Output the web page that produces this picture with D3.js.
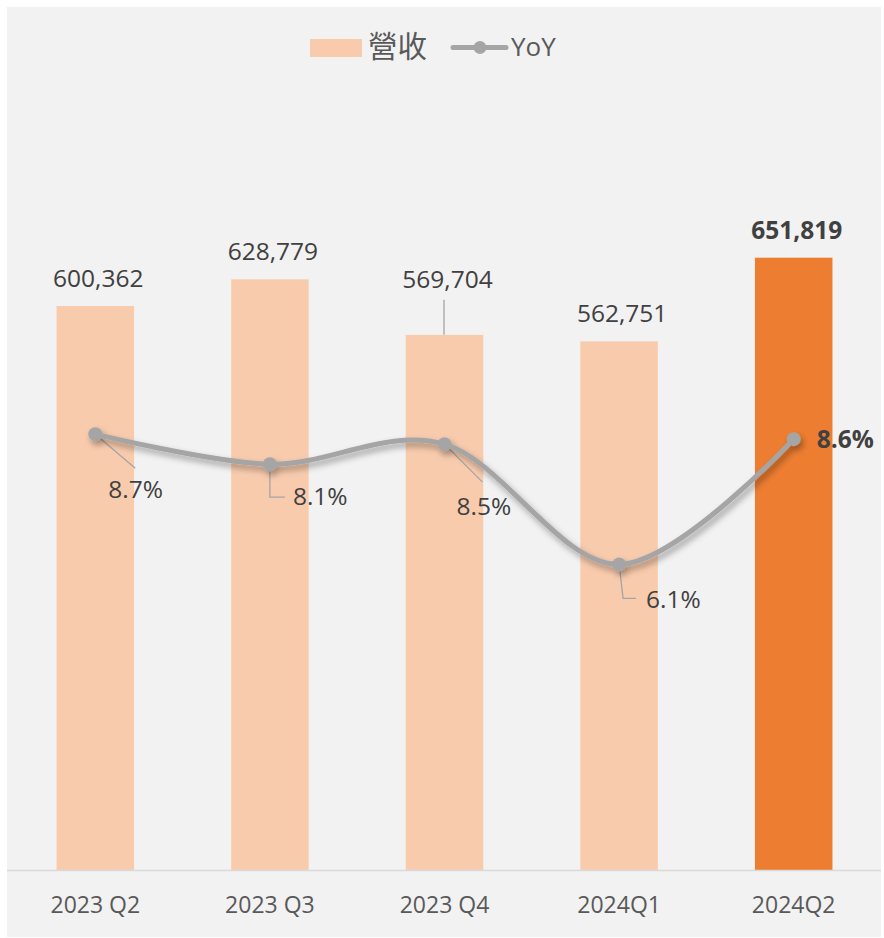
<!DOCTYPE html>
<html lang="zh-Hant">
  <head>
    <meta charset="UTF-8" />
    <title>營收 YoY</title>
    <script src="https://d3js.org/d3.v7.min.js"></script>
    <style>
      * {
        box-sizing: border-box;
        margin: 0;
        padding: 0;
      }
      body {
        background: #ffffff;
      }
      text {
        font-family: "Open Sans", "Noto Sans CJK TC", sans-serif;
      }
    </style>
  </head>
  <body>
    <svg id="chart"></svg>
    <script>
      // data
      const categories = ["2023 Q2", "2023 Q3", "2023 Q4", "2024Q1", "2024Q2"];
      const revenue = [600362, 628779, 569704, 562751, 651819];
      const yoy = [8.7, 8.1, 8.5, 6.1, 8.6];
      const seriesNames = ["營收", "YoY"];

      // layout
      const W = 884, H = 938;
      const plotLeft = 8, plotRight = 881, baseY = 870, topY = 118.5;
      const lightBar = "#f8cbad", darkBar = "#ed7d31", lineCol = "#a5a5a5";

      // label placement for the YoY points (offset from each dot)
      const yoyLabelPos = [
        { dx: 13, dy: 64, leader: [[0, 0], [40, 34]] },
        { dx: 23, dy: 41, leader: [[0, 0], [0, 33], [15, 33]] },
        { dx: 12, dy: 71, leader: [[0, 0], [38, 38]] },
        { dx: 27, dy: 44, leader: [[0, 0], [4, 34], [17, 34]] },
        { dx: 23, dy: 8.5, leader: null }
      ];

      const svg = d3.select("#chart").attr("width", W).attr("height", H);

      // shadow for the line
      const defs = svg.append("defs");
      defs.append("filter")
        .attr("id", "shadow")
        .attr("x", "-20%").attr("y", "-50%")
        .attr("width", "140%").attr("height", "200%")
        .append("feDropShadow")
        .attr("dx", 2.5).attr("dy", 4)
        .attr("stdDeviation", 3)
        .attr("flood-color", "#000")
        .attr("flood-opacity", 0.35);

      svg.append("rect")
        .attr("x", 7).attr("y", 7)
        .attr("width", 874).attr("height", 930)
        .attr("fill", "#f2f2f2");

      const x = d3.scaleBand().domain(categories).range([plotLeft, plotRight]).padding(0);
      const y = d3.scaleLinear().domain([0, 800000]).range([baseY, topY]);
      const y2 = d3.scaleLinear().domain([0, 15]).range([baseY, topY]);
      const barW = x.bandwidth() * 0.444;
      const cx = (c) => x(c) + x.bandwidth() / 2;

      const last = categories.length - 1;

      // bars
      svg.selectAll(".bar")
        .data(categories)
        .enter()
        .append("rect")
        .attr("class", "bar")
        .attr("x", (d) => cx(d) - barW / 2)
        .attr("y", (d, i) => y(revenue[i]))
        .attr("width", barW)
        .attr("height", (d, i) => baseY - y(revenue[i]))
        .attr("fill", (d, i) => (i === last ? darkBar : lightBar));

      // x axis
      const xAxis = svg.append("g")
        .attr("transform", `translate(0,${baseY})`)
        .call(d3.axisBottom(x).tickSize(0).tickPadding(27));
      xAxis.select(".domain")
        .attr("d", `M7,0.5H881`)
        .attr("stroke", "#d9d9d9")
        .attr("stroke-width", 1.5);
      xAxis.selectAll("text")
        .attr("font-size", 23)
        .attr("fill", "#595959");

      // bar value labels (Q4 is lifted with a leader line)
      const fmt = d3.format(",");
      svg.selectAll(".barLabel")
        .data(categories)
        .enter()
        .append("text")
        .attr("class", "barLabel")
        .attr("x", (d) => cx(d) + 3)
        .attr("y", (d, i) => y(revenue[i]) - (i === 2 ? 47 : 19))
        .attr("text-anchor", "middle")
        .attr("font-size", 24.5)
        .attr("font-weight", (d, i) => (i === last ? 700 : 400))
        .attr("fill", "#404040")
        .text((d, i) => fmt(revenue[i]));

      svg.append("line")
        .attr("x1", cx(categories[2]) - 0.5).attr("x2", cx(categories[2]) - 0.5)
        .attr("y1", y(revenue[2]) - 35).attr("y2", y(revenue[2]))
        .attr("stroke", lineCol).attr("stroke-width", 1.3);

      // YoY leader lines
      const pts = categories.map((c, i) => [cx(c), y2(yoy[i])]);
      yoyLabelPos.forEach((p, i) => {
        if (!p.leader) return;
        svg.append("path")
          .attr("d", d3.line()(p.leader.map((q) => [pts[i][0] + q[0], pts[i][1] + q[1]])))
          .attr("fill", "none")
          .attr("stroke", lineCol)
          .attr("stroke-width", 1.3);
      });

      // YoY line + markers
      const gLine = svg.append("g").attr("filter", "url(#shadow)");
      gLine.append("path")
        .datum(pts)
        .attr("d", d3.line().curve(d3.curveCardinal.tension(0)))
        .attr("fill", "none")
        .attr("stroke", lineCol)
        .attr("stroke-width", 5)
        .attr("stroke-linecap", "round");
      gLine.selectAll("circle")
        .data(pts)
        .enter()
        .append("circle")
        .attr("cx", (d) => d[0])
        .attr("cy", (d) => d[1])
        .attr("r", 7)
        .attr("fill", lineCol);

      // YoY labels
      svg.selectAll(".yoyLabel")
        .data(yoy)
        .enter()
        .append("text")
        .attr("class", "yoyLabel")
        .attr("x", (d, i) => pts[i][0] + yoyLabelPos[i].dx)
        .attr("y", (d, i) => pts[i][1] + yoyLabelPos[i].dy)
        .attr("font-size", 24.5)
        .attr("font-weight", (d, i) => (i === last ? 700 : 400))
        .attr("fill", "#404040")
        .text((d) => d.toFixed(1) + "%");

      // legend
      const leg = svg.append("g");
      leg.append("rect")
        .attr("x", 310).attr("y", 39)
        .attr("width", 52).attr("height", 18)
        .attr("fill", lightBar);
      leg.append("text")
        .attr("x", 368).attr("y", 57)
        .attr("font-size", 29.5)
        .attr("fill", "#595959")
        .text(seriesNames[0]);
      leg.append("line")
        .attr("x1", 453).attr("x2", 506)
        .attr("y1", 47.5).attr("y2", 47.5)
        .attr("stroke", lineCol).attr("stroke-width", 5)
        .attr("stroke-linecap", "round");
      leg.append("circle")
        .attr("cx", 480).attr("cy", 47.5).attr("r", 6.5)
        .attr("fill", lineCol);
      leg.append("text")
        .attr("x", 511).attr("y", 55.5)
        .attr("font-size", 26)
        .attr("fill", "#595959")
        .text(seriesNames[1]);
    </script>
  </body>
</html>
